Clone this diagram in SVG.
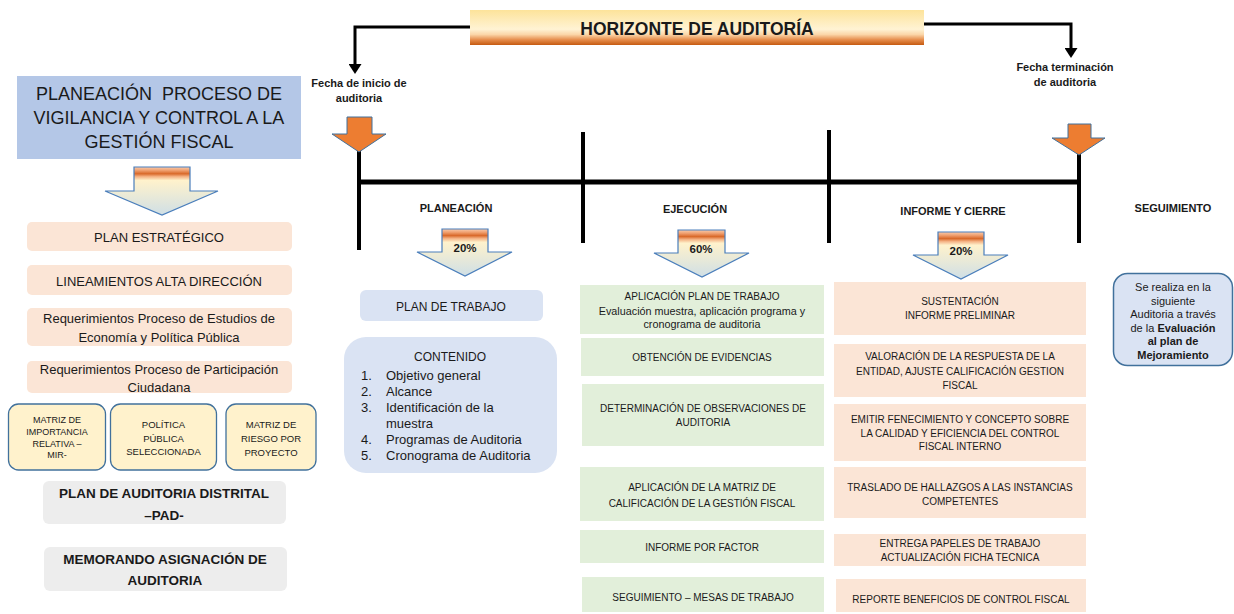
<svg xmlns="http://www.w3.org/2000/svg" width="1234" height="614" viewBox="0 0 1234 614">
<defs>
<linearGradient id="gTitle" x1="0" y1="0" x2="0" y2="1">
<stop offset="0" stop-color="#fde39a"/>
<stop offset="0.55" stop-color="#fff3d4"/>
<stop offset="0.7" stop-color="#fbd6a8"/>
<stop offset="0.85" stop-color="#e68d4c"/>
<stop offset="1" stop-color="#c55a11"/>
</linearGradient>
<linearGradient id="gArrow" x1="0" y1="0" x2="0" y2="1">
<stop offset="0" stop-color="#f8cbad"/>
<stop offset="0.07" stop-color="#f0a070"/>
<stop offset="0.14" stop-color="#d9692a"/>
<stop offset="0.2" stop-color="#f4b183"/>
<stop offset="0.28" stop-color="#fff2cc"/>
<stop offset="1" stop-color="#cfdfe6"/>
</linearGradient>
<marker id="ah" markerUnits="userSpaceOnUse" markerWidth="10" markerHeight="13" refX="0" refY="6.5" orient="auto">
<path d="M0,0 L10,6.5 L0,13 z" fill="#000"/>
</marker>
<style>
text{font-family:"Liberation Sans",Arial,sans-serif;fill:#1a1a1a;text-anchor:middle}
.b{font-weight:bold}
.pink{fill:#fbe5d6}
.green{fill:#e2efda}
.blue{fill:#dae3f3}
.grey{fill:#ededed}
.yel{fill:#fff2cc;stroke:#41719c;stroke-width:1.3}
.garrow{fill:url(#gArrow);stroke:#4a7ebb;stroke-width:1.2}
.oarrow{fill:#ed7d31;stroke:#41719c;stroke-width:1}
.conn{fill:none;stroke:#000;stroke-width:3}
.tl{stroke:#000;stroke-width:5}
.tv{stroke:#000;stroke-width:4}
.t10{font-size:10px}
.t11{font-size:11px}
.t13{font-size:13px}
</style>
</defs>
<rect width="1234" height="614" fill="#fff"/>

<g id="connectors">
<path class="conn" d="M470,27 H355 V64" marker-end="url(#ah)"/>
<path class="conn" d="M924,24 H1071 V48" marker-end="url(#ah)"/>
</g>

<g id="title">
<rect x="470" y="10" width="454" height="35" fill="url(#gTitle)"/>
<text x="697" y="35" class="b" style="font-size:17.5px">HORIZONTE DE AUDITORÍA</text>
</g>

<g id="fecha-inicio">
<text x="359" y="87" class="b t11">Fecha de inicio de</text>
<text x="359" y="102" class="b t11">auditoria</text>
</g>
<g id="fecha-fin">
<text x="1065" y="71" class="b t11">Fecha terminación</text>
<text x="1065" y="86" class="b t11">de auditoria</text>
</g>

<g id="timeline">
<line class="tv" x1="359" y1="150" x2="359" y2="250"/>
<line class="tl" x1="357" y1="182" x2="1081" y2="182"/>
<line class="tv" x1="583" y1="132" x2="583" y2="243"/>
<line class="tv" x1="829" y1="130" x2="829" y2="243"/>
<line class="tv" x1="1079" y1="153" x2="1079" y2="243"/>
<polygon class="oarrow" points="347,117 372,117 372,134 386,134 359,152 332,134 347,134"/>
<polygon class="oarrow" points="1068,124 1091,124 1091,138 1105,138 1079,155 1052,138 1068,138"/>
</g>

<g id="planeacion-proceso">
<rect x="17" y="76" width="284" height="83" fill="#b4c7e7"/>
<text x="159" y="100" style="font-size:18px">PLANEACIÓN&#160; PROCESO DE</text>
<text x="159" y="124" style="font-size:18px">VIGILANCIA Y CONTROL A LA</text>
<text x="159" y="148" style="font-size:18px">GESTIÓN FISCAL</text>
<polygon class="garrow" points="134,167 190,167 190,191 218,191 162,215 105,191 134,191"/>
</g>

<g id="plan-estrategico">
<rect class="pink" x="27" y="222" width="265" height="29" rx="5"/>
<text x="159" y="241.5" class="t13">PLAN ESTRATÉGICO</text>
</g>
<g id="lineamientos">
<rect class="pink" x="27" y="265" width="265" height="30" rx="5"/>
<text x="159" y="285.5" class="t13">LINEAMIENTOS ALTA DIRECCIÓN</text>
</g>
<g id="req-estudios">
<rect class="pink" x="27" y="308" width="265" height="38" rx="5"/>
<text x="159" y="322.5" class="t13">Requerimientos Proceso de Estudios de</text>
<text x="159" y="341.5" class="t13">Economía y Política Pública</text>
</g>
<g id="req-participacion">
<rect class="pink" x="27" y="361" width="265" height="32" rx="5"/>
<text x="159" y="373.5" class="t13">Requerimientos Proceso de Participación</text>
<text x="159" y="391.5" class="t13">Ciudadana</text>
</g>
<g id="matriz-importancia">
<rect class="yel" x="8.5" y="404" width="97" height="66" rx="10"/>
<text x="57" y="423" style="font-size:9px">MATRIZ DE</text>
<text x="57" y="435" style="font-size:9px">IMPORTANCIA</text>
<text x="57" y="446.5" style="font-size:9px">RELATIVA –</text>
<text x="57" y="458" style="font-size:9px">MIR-</text>
</g>
<g id="politica-publica">
<rect class="yel" x="110.5" y="404" width="106" height="66" rx="10"/>
<text x="163.5" y="428" style="font-size:9.5px">POLÍTICA</text>
<text x="163.5" y="441.5" style="font-size:9.5px">PÚBLICA</text>
<text x="163.5" y="455" style="font-size:9.5px">SELECCIONADA</text>
</g>
<g id="matriz-riesgo">
<rect class="yel" x="226" y="404" width="90" height="66" rx="10"/>
<text x="271" y="428" style="font-size:9.5px">MATRIZ DE</text>
<text x="271" y="442" style="font-size:9.5px">RIESGO POR</text>
<text x="271" y="456" style="font-size:9.5px">PROYECTO</text>
</g>
<g id="pad">
<rect class="grey" x="43" y="481" width="243" height="43" rx="6"/>
<text x="164" y="498" class="b" style="font-size:13.5px">PLAN DE AUDITORIA DISTRITAL</text>
<text x="164" y="520" class="b" style="font-size:13.5px">–PAD-</text>
</g>
<g id="memorando">
<rect class="grey" x="44" y="547" width="243" height="44" rx="6"/>
<text x="165" y="564" class="b" style="font-size:13.5px">MEMORANDO ASIGNACIÓN DE</text>
<text x="165" y="585" class="b" style="font-size:13.5px">AUDITORIA</text>
</g>

<g id="fase-planeacion">
<text x="456" y="212" class="b t11">PLANEACIÓN</text>
<polygon class="garrow" points="442,229 488,229 488,252 512,252 465,276 417,252 442,252"/>
<text x="465" y="251.5" class="b" style="font-size:11.5px">20%</text>
</g>
<g id="fase-ejecucion">
<text x="695" y="213" class="b t11">EJECUCIÓN</text>
<polygon class="garrow" points="678,230 725,230 725,253 749,253 702,277 654,253 678,253"/>
<text x="701" y="252.5" class="b" style="font-size:11.5px">60%</text>
</g>
<g id="fase-informe">
<text x="953" y="215" class="b t11">INFORME Y CIERRE</text>
<polygon class="garrow" points="938,232 984,232 984,255 1008,255 961,279 913,255 938,255"/>
<text x="961" y="255" class="b" style="font-size:11.5px">20%</text>
</g>
<g id="fase-seguimiento">
<text x="1173" y="212" class="b t11">SEGUIMIENTO</text>
</g>

<g id="plan-trabajo">
<rect class="blue" x="360" y="290" width="183" height="31" rx="6"/>
<text x="451" y="310.5" style="font-size:12px">PLAN DE TRABAJO</text>
</g>
<g id="contenido">
<rect class="blue" x="344" y="337" width="213" height="136" rx="22"/>
<text x="450" y="360.5" style="font-size:12px">CONTENIDO</text>
<g class="t13">
<text x="361" y="379.5" style="text-anchor:start">1.</text><text x="386" y="379.5" style="text-anchor:start">Objetivo general</text>
<text x="361" y="395.5" style="text-anchor:start">2.</text><text x="386" y="395.5" style="text-anchor:start">Alcance</text>
<text x="361" y="411.5" style="text-anchor:start">3.</text><text x="386" y="411.5" style="text-anchor:start">Identificación de la</text>
<text x="386" y="427.5" style="text-anchor:start">muestra</text>
<text x="361" y="443.5" style="text-anchor:start">4.</text><text x="386" y="443.5" style="text-anchor:start">Programas de Auditoria</text>
<text x="361" y="459.5" style="text-anchor:start">5.</text><text x="386" y="459.5" style="text-anchor:start">Cronograma de Auditoria</text>
</g>
</g>

<g id="ej-aplicacion-plan">
<rect class="green" x="580" y="285" width="244" height="49"/>
<text x="702" y="299.5" class="t10">APLICACIÓN PLAN DE TRABAJO</text>
<text x="702" y="314.5" style="font-size:10.8px">Evaluación muestra, aplicación programa y</text>
<text x="702" y="328" style="font-size:10.8px">cronograma de auditoria</text>
</g>
<g id="ej-evidencias">
<rect class="green" x="581" y="338" width="243" height="38"/>
<text x="702" y="360.5" class="t10">OBTENCIÓN DE EVIDENCIAS</text>
</g>
<g id="ej-observaciones">
<rect class="green" x="582" y="384" width="242" height="62"/>
<text x="703" y="411.5" class="t10">DETERMINACIÓN DE OBSERVACIONES DE</text>
<text x="703" y="425.5" class="t10">AUDITORIA</text>
</g>
<g id="ej-matriz">
<rect class="green" x="580" y="467" width="244" height="54"/>
<text x="702" y="490.5" class="t10">APLICACIÓN DE LA MATRIZ DE</text>
<text x="702" y="506.5" class="t10">CALIFICACIÓN DE LA GESTIÓN FISCAL</text>
</g>
<g id="ej-informe-factor">
<rect class="green" x="580" y="530" width="244" height="33"/>
<text x="702" y="550.5" class="t10">INFORME POR FACTOR</text>
</g>
<g id="ej-seguimiento">
<rect class="green" x="582" y="577" width="242" height="35"/>
<text x="703" y="600.5" class="t10">SEGUIMIENTO – MESAS DE TRABAJO</text>
</g>

<g id="ic-sustentacion">
<rect class="pink" x="834" y="282" width="252" height="53"/>
<text x="960" y="304.5" class="t10">SUSTENTACIÓN</text>
<text x="960" y="318.5" class="t10">INFORME PRELIMINAR</text>
</g>
<g id="ic-valoracion">
<rect class="pink" x="834" y="344" width="252" height="53"/>
<text x="960" y="359.5" class="t10">VALORACIÓN DE LA RESPUESTA DE LA</text>
<text x="960" y="375" class="t10">ENTIDAD, AJUSTE CALIFICACIÓN GESTION</text>
<text x="960" y="388.5" class="t10">FISCAL</text>
</g>
<g id="ic-fenecimiento">
<rect class="pink" x="834" y="404" width="252" height="57"/>
<text x="960" y="422.5" class="t10">EMITIR FENECIMIENTO Y CONCEPTO SOBRE</text>
<text x="960" y="436.5" class="t10">LA CALIDAD Y EFICIENCIA DEL CONTROL</text>
<text x="960" y="449.5" class="t10">FISCAL INTERNO</text>
</g>
<g id="ic-traslado">
<rect class="pink" x="834" y="467" width="252" height="51"/>
<text x="960" y="490.5" class="t10">TRASLADO DE HALLAZGOS A LAS INSTANCIAS</text>
<text x="960" y="504.5" class="t10">COMPETENTES</text>
</g>
<g id="ic-entrega">
<rect class="pink" x="834" y="534" width="252" height="32"/>
<text x="960" y="546.5" class="t10">ENTREGA PAPELES DE TRABAJO</text>
<text x="960" y="560.5" class="t10">ACTUALIZACIÓN FICHA TECNICA</text>
</g>
<g id="ic-reporte">
<rect class="pink" x="836" y="579" width="250" height="33"/>
<text x="961" y="602.5" class="t10">REPORTE BENEFICIOS DE CONTROL FISCAL</text>
</g>

<g id="seguimiento-box">
<rect x="1113.5" y="273.5" width="119" height="92" rx="14" fill="#dae3f3" stroke="#41719c" stroke-width="1.5"/>
<text x="1173" y="291" class="t11">Se realiza en la</text>
<text x="1173" y="304.5" class="t11">siguiente</text>
<text x="1173" y="318" class="t11">Auditoria a través</text>
<text x="1173" y="331.5" class="t11">de la <tspan class="b">Evaluación</tspan></text>
<text x="1173" y="345" class="t11 b">al plan de</text>
<text x="1173" y="358.5" class="t11 b">Mejoramiento</text>
</g>
</svg>
